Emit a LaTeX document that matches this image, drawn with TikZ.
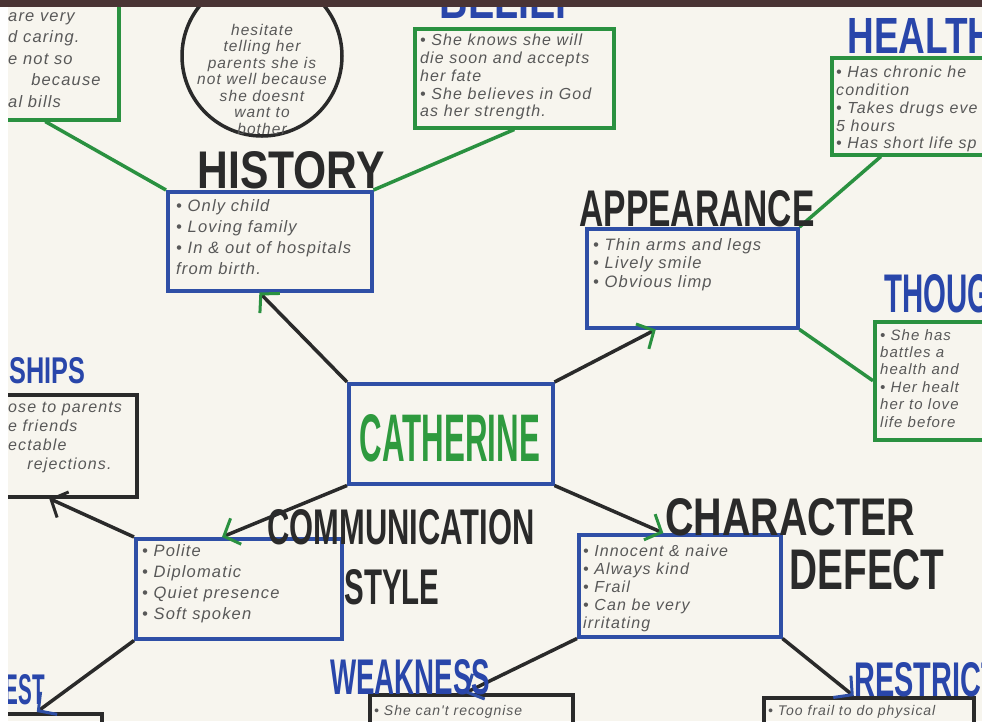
\documentclass[tikz,border=0pt]{standalone}
\usepackage{fontspec}
\setmainfont{Liberation Sans}
\newfontfamily\handfont[LetterSpace=7]{Liberation Sans}
\usepackage{graphicx}
\usetikzlibrary{arrows.meta, positioning, calc}
\definecolor{paper}{HTML}{F7F5EE}
\definecolor{boxblue}{HTML}{2F4FA6}
\definecolor{boxgreen}{HTML}{2A9140}
\definecolor{inkblack}{HTML}{2A2A2A}
\definecolor{labelblue}{HTML}{2946AA}
\definecolor{notegray}{HTML}{585858}
\definecolor{namegreen}{HTML}{2E9A3E}
\definecolor{topband}{HTML}{4A3434}
\newcommand{\capword}[3]{\resizebox{#1pt}{#2pt}{#3}}
\newcommand{\handsize}[2]{\handfont\itshape\fontsize{#1}{#2}\selectfont}

\begin{document}
\begin{tikzpicture}[x=1pt,y=-1pt,
    bluebox/.style={draw=boxblue, line width=3.5pt, inner sep=0pt, anchor=north west},
    greenbox/.style={draw=boxgreen, line width=3.5pt, inner sep=0pt, anchor=north west},
    blackbox/.style={draw=inkblack, line width=3.5pt, inner sep=0pt, anchor=north west},
    note/.style={anchor=north west, align=left, inner sep=0pt, text=notegray},
    biglabel/.style={inner sep=0pt, font=\bfseries, text=inkblack},
    bluelabel/.style={biglabel, text=labelblue},
    link/.style={draw=inkblack, line width=3.5pt},
    greenlink/.style={draw=boxgreen, line width=3.5pt},
    greentip/.style={-{Straight Barb[length=13pt, width=28pt, line width=3pt, color=boxgreen]}},
    bluetip/.style={-{Straight Barb[length=13pt, width=28pt, line width=3pt, color=boxblue]}},
    darktip/.style={-{Straight Barb[length=13pt, width=28pt, line width=3pt, color=inkblack]}}]
  \useasboundingbox (0,0) rectangle (982,721);
  \fill[paper] (0,0) rectangle (982,721);
  \clip (0,0) rectangle (982,721);

  % boxes
  \node[greenbox, minimum width=147pt, minimum height=128pt] (tlbox) at (-30,-10) {};
  \node[draw=inkblack, line width=3.5pt, circle, minimum size=160pt, inner sep=0pt] (worry) at (262,56) {};
  \node[greenbox, minimum width=199pt, minimum height=99pt] (belief) at (413,27) {};
  \node[greenbox, minimum width=200pt, minimum height=97pt] (health) at (830,56) {};
  \node[bluebox, minimum width=204pt, minimum height=99pt] (history) at (166,190) {};
  \node[bluebox, minimum width=211pt, minimum height=99pt] (appear) at (585,227) {};
  \node[greenbox, minimum width=150pt, minimum height=118pt] (thoughts) at (873,320) {};
  \node[blackbox, minimum width=165pt, minimum height=102pt] (relation) at (-30,393) {};
  \node[bluebox, minimum width=204pt, minimum height=100pt] (cath) at (347,382) {};
  \node[bluebox, minimum width=206pt, minimum height=100pt] (comm) at (134,537) {};
  \node[bluebox, minimum width=202pt, minimum height=102pt] (charbox) at (577,533) {};
  \node[blackbox, minimum width=130pt, minimum height=40pt] (interest) at (-30,712) {};
  \node[blackbox, minimum width=203pt, minimum height=40pt] (weak) at (368,693) {};
  \node[blackbox, minimum width=210pt, minimum height=40pt] (restrict) at (762,696) {};

  % connectors
  \draw[greenlink] (tlbox.south) -- (history.north west);
  \draw[greenlink] (belief.south) -- (history.north east);
  \draw[greenlink] ($(health.south west)!0.25!(health.south east)$) -- (appear.north east);
  \draw[greenlink] (appear.south east) -- (thoughts.west);
  \draw[link, greentip] (cath.north west) -- ($(history.south west)!0.45!(history.south east)$);
  \draw[link, greentip] (cath.north east) -- ($(appear.south west)!0.33!(appear.south east)$);
  \draw[link, greentip] (cath.south west) -- ($(comm.north west)!0.42!(comm.north east)$);
  \draw[link, greentip] (cath.south east) -- ($(charbox.north west)!0.42!(charbox.north east)$);
  \draw[link, darktip] (comm.north west) -- ($(relation.south west)!0.47!(relation.south east)$);
  \draw[link, bluetip] (comm.south west) -- (interest.north);
  \draw[link, bluetip] (charbox.south west) -- ($(weak.north west)!0.47!(weak.north east)$);
  \draw[link, bluetip] (charbox.south east) -- ($(restrict.north west)!0.43!(restrict.north east)$);

  % notes
  \node[note, font=\handsize{16.5}{21.5}] (tltext) at (8,12)
    {are very\\d caring.\\e not so\\\hspace{1.4em}because\\al bills};
  \node[note, anchor=center, align=center, font=\handsize{15.5}{16.5}] (worrytext) at (262,79)
    {hesitate\\telling her\\parents she is\\not well because\\she doesnt\\want to\\bother};
  \node[note, font=\handsize{16}{17.8}] (belieftext) at (420,34)
    {\textbullet\ She knows she will\\die soon and accepts\\her fate\\\textbullet\ She believes in God\\as her strength.};
  \node[note, font=\handsize{16}{17.8}] (healthtext) at (836,66)
    {\textbullet\ Has chronic he\\condition\\\textbullet\ Takes drugs eve\\5 hours\\\textbullet\ Has short life sp};
  \node[note, font=\handsize{16.5}{21}] (historytext) at (176,199)
    {\textbullet\ Only child\\\textbullet\ Loving family\\\textbullet\ In \& out of hospitals\\from birth.};
  \node[note, font=\handsize{16.5}{18.5}] (appeartext) at (593,238)
    {\textbullet\ Thin arms and legs\\\textbullet\ Lively smile\\\textbullet\ Obvious limp};
  \node[note, font=\handsize{15}{17.4}] (thoughttext) at (880,329)
    {\textbullet\ She has\\battles a\\health and\\\textbullet\ Her healt\\her to love\\life before};
  \node[note, font=\handsize{16}{19}] (relationtext) at (8,402)
    {ose to parents\\e friends\\ectable\\\hspace{1.2em}rejections.};
  \node[note, font=\handsize{16.5}{21}] (commtext) at (142,544)
    {\textbullet\ Polite\\\textbullet\ Diplomatic\\\textbullet\ Quiet presence\\\textbullet\ Soft spoken};
  \node[note, font=\handsize{16}{18}] (chartext) at (583,545)
    {\textbullet\ Innocent \& naive\\\textbullet\ Always kind\\\textbullet\ Frail\\\textbullet\ Can be very\\irritating};
  \node[note, font=\handsize{14}{17}] (weaktext) at (374,705) {\textbullet\ She can't recognise};
  \node[note, font=\handsize{14}{17}] (restricttext) at (768,705) {\textbullet\ Too frail to do physical};

  % headings
  \node[bluelabel] (beliefLbl) at (510,0) {\capword{140}{36}{BELIEF}};
  \node[bluelabel] (healthLbl) at (921,36) {\capword{147}{35}{HEALTH}};
  \node[biglabel] (historyLbl) at (291,170) {\capword{187}{37}{HISTORY}};
  \node[biglabel] (appearLbl) at (697,209) {\capword{235}{36}{APPEARANCE}};
  \node[bluelabel] (thoughtLbl) at (967,294) {\capword{165}{38}{THOUGHTS}};
  \node[bluelabel] (relationLbl) at (-16,371) {\capword{203}{26}{RELATIONSHIPS}};
  \node[biglabel, text=namegreen] (cathLbl) at (450,438) {\capword{180}{47}{CATHERINE}};
  \node[biglabel] (commLbl) at (401,527) {\capword{267}{35}{COMMUNICATION}};
  \node[biglabel] (styleLbl) at (392,587) {\capword{95}{35}{STYLE}};
  \node[biglabel] (charLbl) at (790,517) {\capword{250}{37}{CHARACTER}};
  \node[biglabel] (defectLbl) at (867,570) {\capword{155}{40}{DEFECT}};
  \node[bluelabel] (weakLbl) at (410,677) {\capword{160}{35}{WEAKNESS}};
  \node[bluelabel] (restrictLbl) at (962,680) {\capword{215}{34}{RESTRICTIONS}};
  \node[bluelabel] (interestLbl) at (-6,690) {\capword{102}{30}{INTEREST}};

  % photo edges
  \fill[topband] (0,0) rectangle (982,7);
  \fill[white] (0,7) rectangle (8,721);
\end{tikzpicture}
\end{document}
